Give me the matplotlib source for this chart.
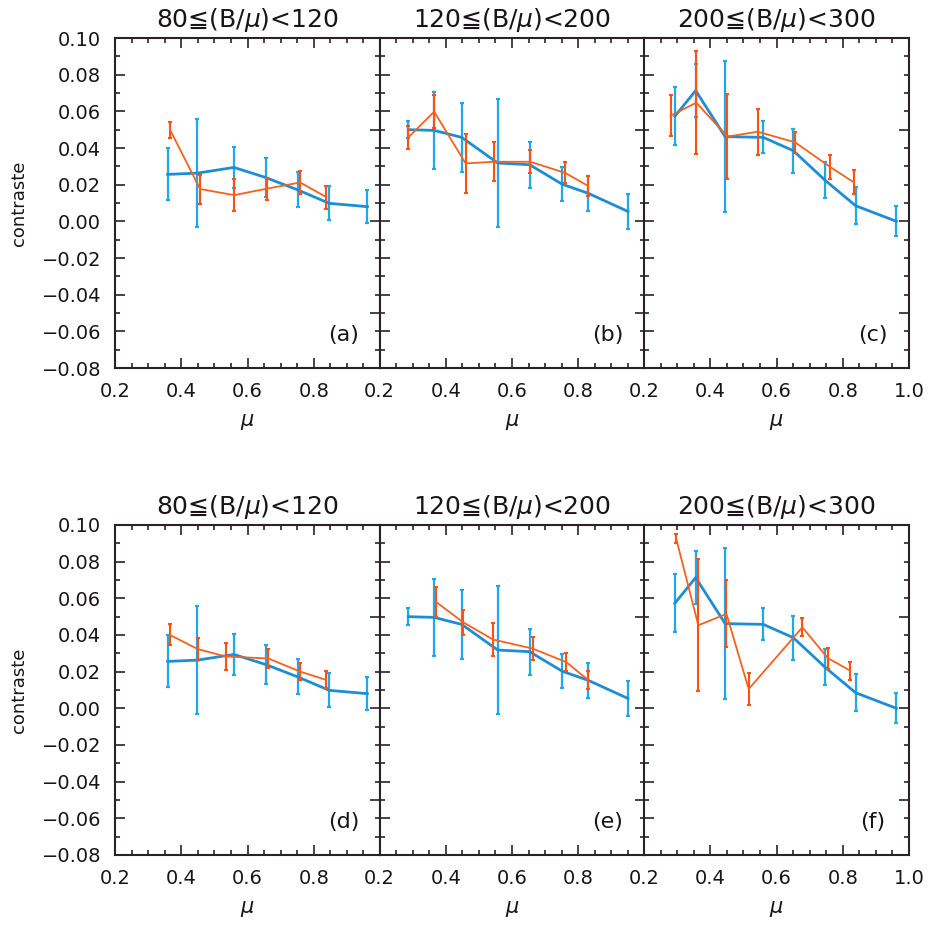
import matplotlib
matplotlib.use("Agg")
import matplotlib.pyplot as plt
from matplotlib.ticker import MultipleLocator, FixedLocator, NullFormatter

plt.rcParams['font.family'] = ['DejaVu Sans', 'Noto Sans CJK JP']
plt.rcParams['mathtext.fontset'] = 'dejavusans'

# blue reference curves (same in both rows)
blue_a_x = [0.359, 0.449, 0.559, 0.655, 0.751, 0.847, 0.962]
blue_a_y = [0.0256, 0.0263, 0.0294, 0.0239, 0.0172, 0.0098, 0.0080]
blue_a_e = [0.0142, 0.0296, 0.0113, 0.0104, 0.0095, 0.0093, 0.0090]

blue_b_x = [0.287, 0.365, 0.448, 0.557, 0.653, 0.752, 0.830, 0.950]
blue_b_y = [0.0500, 0.0496, 0.0458, 0.0318, 0.0309, 0.0202, 0.0153, 0.0054]
blue_b_e = [0.0046, 0.0210, 0.0190, 0.0350, 0.0125, 0.0093, 0.0095, 0.0096]

blue_c_x = [0.293, 0.356, 0.445, 0.560, 0.651, 0.746, 0.839, 0.962]
blue_c_y = [0.0573, 0.0713, 0.0462, 0.0458, 0.0385, 0.0225, 0.0085, 0.0000]
blue_c_e = [0.0158, 0.0145, 0.0410, 0.0087, 0.0120, 0.0098, 0.0102, 0.0082]

# orange curves, one per panel
org_a_x = [0.366, 0.457, 0.560, 0.658, 0.759, 0.838]
org_a_y = [0.0500, 0.0176, 0.0143, 0.0178, 0.0212, 0.0132]
org_a_e = [0.0043, 0.0079, 0.0088, 0.0060, 0.0063, 0.0063]

org_b_x = [0.287, 0.365, 0.460, 0.546, 0.655, 0.761, 0.830]
org_b_y = [0.0458, 0.0598, 0.0316, 0.0325, 0.0325, 0.0264, 0.0193]
org_b_e = [0.0064, 0.0090, 0.0162, 0.0106, 0.0064, 0.0057, 0.0055]

org_c_x = [0.280, 0.358, 0.452, 0.543, 0.656, 0.761, 0.833]
org_c_y = [0.0576, 0.0647, 0.0462, 0.0489, 0.0431, 0.0298, 0.0213]
org_c_e = [0.0113, 0.0280, 0.0232, 0.0125, 0.0057, 0.0066, 0.0066]

org_d_x = [0.365, 0.450, 0.534, 0.663, 0.758, 0.836]
org_d_y = [0.0401, 0.0323, 0.0283, 0.0272, 0.0201, 0.0156]
org_d_e = [0.0057, 0.0058, 0.0075, 0.0054, 0.0046, 0.0047]

org_e_x = [0.371, 0.452, 0.543, 0.662, 0.764, 0.830]
org_e_y = [0.0580, 0.0470, 0.0375, 0.0326, 0.0252, 0.0154]
org_e_e = [0.0082, 0.0069, 0.0091, 0.0062, 0.0050, 0.0047]

org_f_x = [0.297, 0.364, 0.449, 0.516, 0.678, 0.755, 0.823]
org_f_y = [0.0927, 0.0453, 0.0515, 0.0105, 0.0442, 0.0274, 0.0205]
org_f_e = [0.0024, 0.0360, 0.0183, 0.0088, 0.0050, 0.0057, 0.0048]

titles = ['80≦(B/$\\mu$)<120', '120≦(B/$\\mu$)<200', '200≦(B/$\\mu$)<300']
panel_labels = ['(a)', '(b)', '(c)', '(d)', '(e)', '(f)']

blues = [(blue_a_x, blue_a_y, blue_a_e), (blue_b_x, blue_b_y, blue_b_e), (blue_c_x, blue_c_y, blue_c_e)]
oranges = [(org_a_x, org_a_y, org_a_e), (org_b_x, org_b_y, org_b_e), (org_c_x, org_c_y, org_c_e),
           (org_d_x, org_d_y, org_d_e), (org_e_x, org_e_y, org_e_e), (org_f_x, org_f_y, org_f_e)]

BLUE = '#1c8ed6'
BLUE_E = '#1ea9ee'
ORANGE = '#f5621c'
ORANGE_E = '#ff5010'
AXC = '#2b2129'
TXT = '#1a1418'

fig = plt.figure(figsize=(9.32, 9.26), dpi=100)

W, H = 932.0, 926.0
lefts = [115, 379.5, 644]
pw = 265
tops = [38, 525]
ph = 330

for r in range(2):
    for c in range(3):
        i = r * 3 + c
        ax = fig.add_axes([lefts[c] / W, 1 - (tops[r] + ph) / H, pw / W, ph / H])
        bx, by, be = blues[c]
        ax.errorbar(bx, by, yerr=be, color=BLUE, ecolor=BLUE_E, lw=2.0, elinewidth=1.6,
                    capsize=1.5, capthick=1.6, zorder=3)
        ox, oy, oe = oranges[i]
        ax.errorbar(ox, oy, yerr=oe, color=ORANGE, ecolor=ORANGE_E, lw=1.3, elinewidth=1.5,
                    capsize=1.5, capthick=1.5, zorder=4)
        ax.set_xlim(0.2, 1.0)
        ax.set_ylim(-0.08, 0.10)

        if c < 2:
            ax.xaxis.set_major_locator(FixedLocator([0.2, 0.4, 0.6, 0.8]))
        else:
            ax.xaxis.set_major_locator(FixedLocator([0.2, 0.4, 0.6, 0.8, 1.0]))
        ax.xaxis.set_minor_locator(MultipleLocator(0.05))
        ax.yaxis.set_major_locator(MultipleLocator(0.02))
        ax.yaxis.set_minor_locator(MultipleLocator(0.01))
        ax.xaxis.set_major_formatter(plt.FuncFormatter(lambda v, p: '%.1f' % v))
        ax.yaxis.set_major_formatter(plt.FuncFormatter(lambda v, p: ('%.2f' % v).replace('-', '\u2212')))
        ax.tick_params(which='both', direction='in', top=True, right=False, color=AXC,
                       labelsize=14, labelcolor=TXT, width=1.2)
        ax.tick_params(which='major', length=7, pad=10)
        ax.tick_params(which='minor', length=3.5)
        if c > 0:
            ax.tick_params(axis='y', labelleft=False)

        # right side ticks: 0.05 major, 0.01 minor
        sec = ax.secondary_yaxis('right')
        sec.yaxis.set_major_locator(FixedLocator([-0.05, 0.0, 0.05]))
        sec.yaxis.set_minor_locator(MultipleLocator(0.01))
        sec.yaxis.set_major_formatter(NullFormatter())
        sec.tick_params(which='both', direction='in', color=AXC, width=1.2)
        sec.tick_params(which='major', length=7)
        sec.tick_params(which='minor', length=3.5)
        sec.spines['right'].set_visible(False)

        for s in ax.spines.values():
            s.set_color(AXC)
            s.set_linewidth(1.5)

        ax.set_title(titles[c], fontsize=18, pad=8, color=TXT)
        ax.set_xlabel('$\\mu$', fontsize=15, labelpad=8, color=TXT)
        if c == 0:
            ax.set_ylabel('contraste', fontsize=13, labelpad=10, color=TXT)
        ax.text(0.89, -0.062, panel_labels[i], ha='center', va='center', fontsize=16, color=TXT)

plt.savefig('out.png', dpi=100)
